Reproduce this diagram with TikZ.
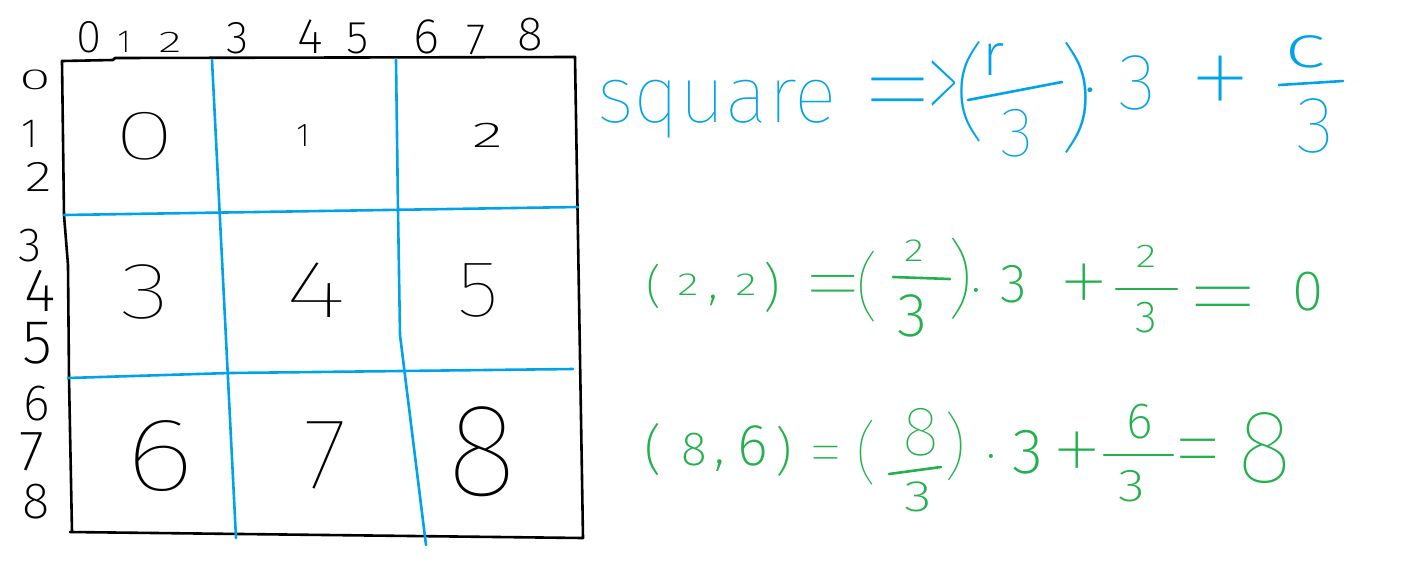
\documentclass[tikz,border=0pt]{standalone}
\usepackage{fontspec}
\newfontfamily\hand{Fira Sans ExtraLight}
\newfontfamily\thin{Fira Sans Thin}
\definecolor{pblue}{HTML}{00A2E8}
\definecolor{pgreen}{HTML}{22B14C}
\newcommand\hf[1]{\ifdim#1pt>65pt\thin\else\hand\fi\fontsize{#1}{#1}\selectfont}
\newcommand\hx[2]{\scalebox{#1}[1]{#2}}
\newcommand\eqs[2]{{\thin\fontsize{60}{60}\selectfont\scalebox{#1}[#2]{=}}}
\begin{document}
\begin{tikzpicture}[x=1pt,y=-1pt,
  hw/.style={inner sep=0pt,outer sep=0pt},
  bk/.style={hw,text=black},
  bl/.style={hw,text=pblue},
  gr/.style={hw,text=pgreen},
  ink/.style={line width=2.6pt,line cap=round,line join=round},
  box/.style={ink,draw=black},
  cut/.style={ink,draw=pblue},
  bbar/.style={ink,draw=pblue},
  gbar/.style={ink,draw=pgreen}]
\useasboundingbox (0,0) rectangle (1411,582);
\fill[white] (0,0) rectangle (1411,582);

% outer frame
\draw[box] (62,61) -- (113,60) -- (115,58) -- (575,57);
\draw[box] (575,57) -- (583,538);
\draw[box] (70,532) -- (583,538);
\draw[box] (62,61) -- (64,215) -- (68,265) -- (69,378) -- (72,532);
% blue cuts
\draw[cut] (212,60) -- (236,538);
\draw[cut] (396,60) -- (398,210) -- (400,335) -- (426,545);
\draw[cut] (64,215) -- (578,207);
\draw[cut] (68,378) -- (230,373) -- (573,369);

% top labels
\node[bk,font=\hf{46}] (t0) at (89,37) {0};
\node[bk,font=\hf{32}] (t1) at (124,42) {1};
\node[bk,font=\hf{30}] (t2) at (170,42) {\hx{1.6}{2}};
\node[bk,font=\hf{46}] (t3) at (238,38) {3};
\node[bk,font=\hf{50}] (t4) at (310,37) {4};
\node[bk,font=\hf{46}] (t5) at (358,38) {5};
\node[bk,font=\hf{50}] (t6) at (426,37) {6};
\node[bk,font=\hf{44}] (t7) at (476,40) {7};
\node[bk,font=\hf{48}] (t8) at (530,35) {8};

% left labels
\node[bk,font=\hf{29}] (l0) at (35,80) {\hx{2}{0}};
\node[bk,font=\hf{41}] (l1) at (30,134) {1};
\node[bk,font=\hf{43}] (l2) at (39,177) {\hx{1.3}{2}};
\node[bk,font=\hf{48}] (l3) at (30,246) {3};
\node[bk,font=\hf{61}] (l4) at (40,291) {4};
\node[bk,font=\hf{62}] (l5) at (37,343) {5};
\node[bk,font=\hf{51}] (l6) at (37,404) {6};
\node[bk,font=\hf{57}] (l7) at (32,452) {7};
\node[bk,font=\hf{51}] (l8) at (36,502) {8};

% cell numbers
\node[bk,font=\hf{70}] (c0) at (145,136) {\hx{1.6}{0}};
\node[bk,font=\hf{33}] (c1) at (303,136) {1};
\node[bk,font=\hf{36}] (c2) at (488,135) {\hx{1.8}{2}};
\node[bk,font=\hf{80}] (c3) at (145,292) {\hx{1.3}{3}};
\node[bk,font=\hf{81}] (c4) at (316,290) {\hx{1.5}{4}};
\node[bk,font=\hf{80}] (c5) at (478,290) {\hx{1.1}{5}};
\node[bk,font=\hf{104}] (c6) at (160,456) {\hx{1.3}{6}};
\node[bk,font=\hf{101}] (c7) at (325,455) {7};
\node[bk,font=\hf{132}] (c8) at (482,452) {8};

% blue formula
\node[bl,font=\hf{80},anchor=base west] (sq) at (597,122) {square};
\node[bl] (beq) at (898,106) {\eqs{2.64}{2.2}};
\node[bl,font=\thin\fontsize{70}{70}\selectfont] (bgt) at (944,94) {\scalebox{1}[1.9]{>}};
\node[bl,font=\hf{105}] (blp) at (971,92) {(};
\node[bl,font=\hf{60}] (br) at (994,60) {r};
\draw[bbar] (968,100) -- (1062,82);
\node[bl,font=\hf{70}] (bd3) at (1017,133) {3};
\node[bl,font=\hf{116}] (brp) at (1076,98) {)};
\node[bl,font=\hf{60}] (bdot) at (1090,99) {·};
\node[bl,font=\hf{80}] (bm3) at (1137,83) {3};
\node[bl,font=\hf{136}] (bplus) at (1220,90) {+};
\node[bl,font=\hf{60}] (bc) at (1305,52) {\hx{1.5}{c}};
\draw[bbar] (1279,85) -- (1343,81);
\node[bl,font=\hf{80}] (bc3) at (1315,126) {3};

% green line 1
\node[gr,font=\hf{46}] (alp) at (654,286) {(};
\node[gr,font=\hf{32}] (a2a) at (688,285) {\hx{1.4}{2}};
\node[gr,font=\hf{50},anchor=base] (acm) at (713,298) {,};
\node[gr,font=\hf{32}] (a2b) at (746,285) {\hx{1.4}{2}};
\node[gr,font=\hf{52}] (arp) at (772,287) {)};
\node[gr] (aeq) at (833,295) {\eqs{2.18}{1.55}};
\node[gr,font=\hf{74}] (alp2) at (868,287) {(};
\node[gr,font=\hf{32}] (an2) at (914,251) {\hx{1.3}{2}};
\draw[gbar] (893,277) -- (950,279);
\node[gr,font=\hf{62}] (ad3) at (912,316) {3};
\node[gr,font=\hf{85}] (arp2) at (960,279) {)};
\node[gr,font=\hf{50}] (adot) at (976,297) {·};
\node[gr,font=\hf{55}] (am3) at (1014,284) {3};
\node[gr,font=\hf{110}] (aplus) at (1084,291) {+};
\node[gr,font=\hf{33}] (an2b) at (1146,256) {\hx{1.3}{2}};
\draw[gbar] (1116,289) -- (1177,289);
\node[gr,font=\hf{45}] (ad3b) at (1146,318) {3};
\node[gr] (aeq2) at (1223,310) {\eqs{2.73}{1.8}};
\node[gr,font=\hf{57}] (ares) at (1308,292) {0};

% green line 2
\node[gr,font=\hf{54}] (glp) at (653,450) {(};
\node[gr,font=\hf{48}] (g8) at (694,450) {8};
\node[gr,font=\hf{55},anchor=base] (gcm) at (720,463) {,};
\node[gr,font=\hf{59}] (g6) at (753,446) {6};
\node[gr,font=\hf{52}] (grp) at (784,451) {)};
\node[gr] (geq) at (826,461) {\eqs{1.2}{1.2}};
\node[gr,font=\hf{68}] (glp2) at (867,453) {(};
\node[gr,font=\hf{70}] (gn8) at (921,432) {8};
\draw[gbar] (889,474) -- (941,467);
\node[gr,font=\hf{44}] (gd3) at (918,497) {\hx{1.3}{3}};
\node[gr,font=\hf{72}] (grp2) at (955,446) {)};
\node[gr,font=\hf{50}] (gdot) at (991,463) {·};
\node[gr,font=\hf{64}] (gm3) at (1028,452) {3};
\node[gr,font=\hf{110}] (gplus) at (1077,459) {+};
\node[gr,font=\hf{51}] (gn6) at (1140,422) {6};
\draw[gbar] (1104,455) -- (1173,455);
\node[gr,font=\hf{46}] (gd3b) at (1132,486) {\hx{1.2}{3}};
\node[gr] (geq2) at (1198,462) {\eqs{1.76}{1.8}};
\node[gr,font=\hf{104}] (gres) at (1265,448) {8};
\end{tikzpicture}
\end{document}
